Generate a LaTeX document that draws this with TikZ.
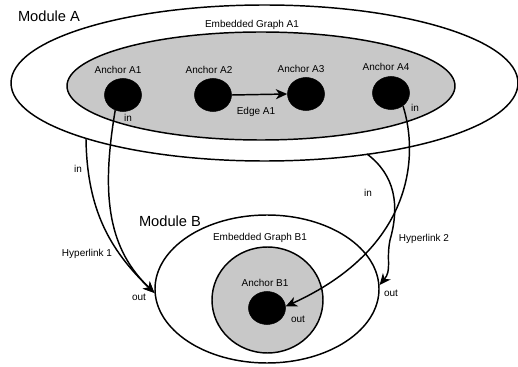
\documentclass[tikz,border=0pt]{standalone}
\usepackage{fontspec}
\setmainfont{Liberation Sans}
\usetikzlibrary{shapes.geometric,arrows.meta}
\definecolor{lgrey}{RGB}{200,200,200}
\begin{document}
\begin{tikzpicture}[x=0.75pt,y=-0.75pt,
  ell/.style={draw,ellipse,inner sep=0pt,line width=1.1pt},
  anch/.style={ellipse,fill=black,draw=black,inner sep=0pt,minimum width=27.75pt,minimum height=24.75pt},
  lbl/.style={font=\fontsize{7.5}{9}\selectfont,inner sep=0pt},
  mod/.style={font=\fontsize{11}{13}\selectfont,inner sep=0pt},
  conn/.style={line width=1.1pt,-{Stealth[length=8.5pt,width=7.5pt,inset=2.5pt]}},
  plain/.style={line width=1.1pt}]
\useasboundingbox (0,0) rectangle (518,367);
% Module A
\node[ell,fill=white,minimum width=380.25pt,minimum height=117pt] (modA) at (264.5,83) {};
\node[ell,fill=lgrey,minimum width=291pt,minimum height=81pt] (gA) at (261,86) {};
\node[anch] (a1) at (123,95) {};
\node[anch] (a2) at (213,95) {};
\node[anch] (a3) at (306,94) {};
\node[anch] (a4) at (391,93) {};
% Module B
\node[ell,fill=white,minimum width=168pt,minimum height=111pt] (modB) at (267,289) {};
\node[ell,fill=lgrey,minimum width=83.25pt,minimum height=79.5pt] (gB) at (267.5,300) {};
\node[anch] (b1) at (267,308) {};
% labels
\node[mod] (tA) at (49,16) {Module A};
\node[mod] (tB) at (170,221) {Module B};
\node[lbl] (tgA) at (252,25) {Embedded Graph A1};
\node[lbl] (tgB) at (260,238) {Embedded Graph B1};
\node[lbl] (ta1) at (118,70) {Anchor A1};
\node[lbl] (ta2) at (209,70) {Anchor A2};
\node[lbl] (ta3) at (301,69) {Anchor A3};
\node[lbl] (ta4) at (386,67) {Anchor A4};
\node[lbl] (tb1) at (265,283) {Anchor B1};
\node[lbl] (te) at (256,112) {Edge A1};
\node[lbl] (in1) at (128,118) {in};
\node[lbl] (in2) at (415,108) {in};
\node[lbl] (in3) at (78,169) {in};
\node[lbl] (in4) at (368,193) {in};
\node[lbl] (h1) at (87,254) {Hyperlink 1};
\node[lbl] (h2) at (424,239) {Hyperlink 2};
\node[lbl] (o1) at (139,297) {out};
\node[lbl] (o2) at (391,293) {out};
\node[lbl] (o3) at (298,319) {out};
% free ends on Module A boundary
\coordinate (s1) at (86,139);
\coordinate (s2) at (367,154);
% Edge A1
\draw[conn] (a2.east) -- (a3.west);
% Hyperlink 1
\draw[conn] (a1.243) .. controls (100,200) and (110,250) .. (modB.182);
\draw[conn] (s1) .. controls (87,210) and (110,250) .. (modB.182);
% Hyperlink 2
\draw[conn] (a4.313) .. controls (420,160) and (410,250) .. (b1.5);
\draw[conn] (s2) .. controls (395,175) and (400,205) .. (390,240) .. controls (386,260) and (392,270) .. (modB.2);
\end{tikzpicture}
\end{document}
